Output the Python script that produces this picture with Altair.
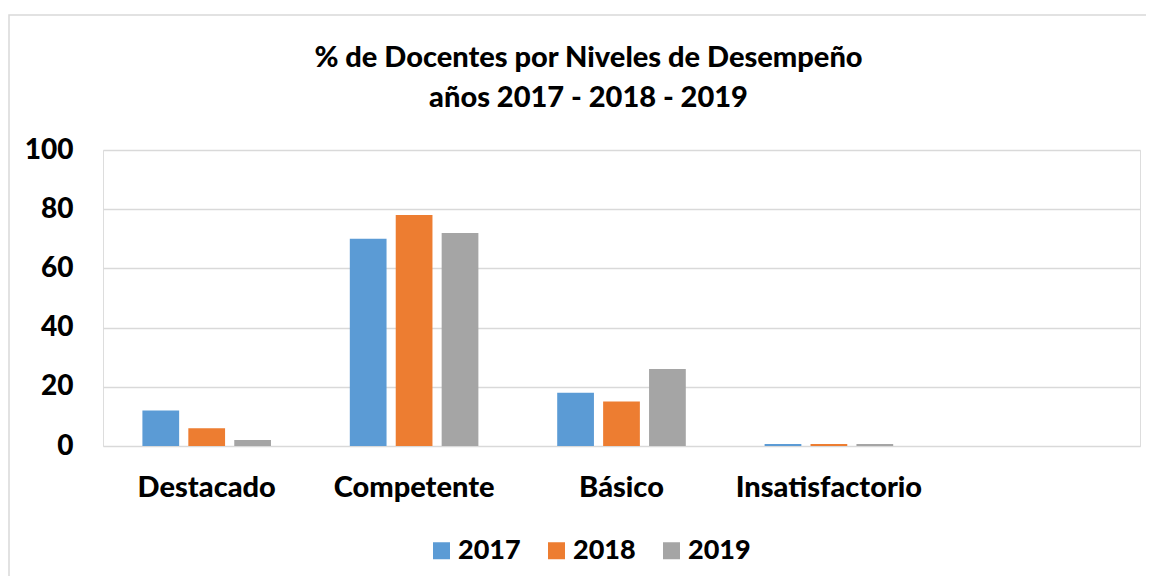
import altair as alt
import pandas as pd

categories = ["Destacado", "Competente", "Básico", "Insatisfactorio"]
years = ["2017", "2018", "2019"]
v2017 = [12, 70, 18, 0.7]
v2018 = [6, 78, 15, 0.7]
v2019 = [2, 72, 26, 0.7]
colors = ["#5B9BD5", "#ED7D31", "#A5A5A5"]
domain_x = categories + [" "]

rows = []
for yr, vals in zip(years, [v2017, v2018, v2019]):
    for c, v in zip(categories, vals):
        rows.append({"Nivel": c, "Año": yr, "Valor": v})
df = pd.DataFrame(rows)

FONT = "Lato"

bars = alt.Chart(df).mark_bar().encode(
    x=alt.X("Nivel:N", sort=domain_x,
            scale=alt.Scale(domain=domain_x, paddingInner=0.38, paddingOuter=0.19),
            axis=alt.Axis(title=None, labelAngle=0, ticks=False, domain=False,
                          labelFont=FONT, labelFontSize=29, labelFontWeight=900,
                          labelColor="#000000", labelPadding=27, labelLimit=400)),
    xOffset=alt.XOffset("Año:N", scale=alt.Scale(paddingInner=0.2, paddingOuter=0)),
    y=alt.Y("Valor:Q", scale=alt.Scale(domain=[0, 100]),
            axis=alt.Axis(title=None, values=[0, 20, 40, 60, 80, 100], ticks=False,
                          domain=False, labelFont=FONT, labelFontSize=28,
                          labelFontWeight=900, labelColor="#000000", labelPadding=30,
                          gridColor="#D9D9D9", gridWidth=1.5)),
    color=alt.Color("Año:N", scale=alt.Scale(domain=years, range=colors),
                    legend=alt.Legend(title=None, orient="none", direction="horizontal",
                                      legendX=325, legendY=387,
                                      symbolType="square", symbolSize=289,
                                      symbolStrokeWidth=0,
                                      labelFont=FONT, labelFontSize=27,
                                      labelFontWeight=900, labelColor="#000000",
                                      columnPadding=22, labelOffset=3)),
)

frame = alt.Chart(pd.DataFrame({"f": [0]})).mark_rect(
    fill=None, stroke="#D9D9D9", strokeWidth=1.5
).encode(
    x=alt.value(-94), x2=alt.value(1200), y=alt.value(-135), y2=alt.value(600)
)

chart = alt.layer(frame, bars).properties(
    width=1037,
    height=296,
    title=alt.TitleParams(
        text=["% de Docentes por Niveles de Desempeño", "años 2017 - 2018 - 2019"],
        font=FONT, fontSize=29, fontWeight=900, color="#000000",
        lineHeight=40, offset=-99, anchor="middle", frame="group", dx=-33),
    autosize=alt.AutoSizeParams(type="none"),
    padding={"left": 95, "top": 142, "right": 6, "bottom": 130},
).configure_view(stroke=None).configure(background="#FFFFFF")

chart.save("out.html", embed_options={"renderer": "svg", "actions": False})
